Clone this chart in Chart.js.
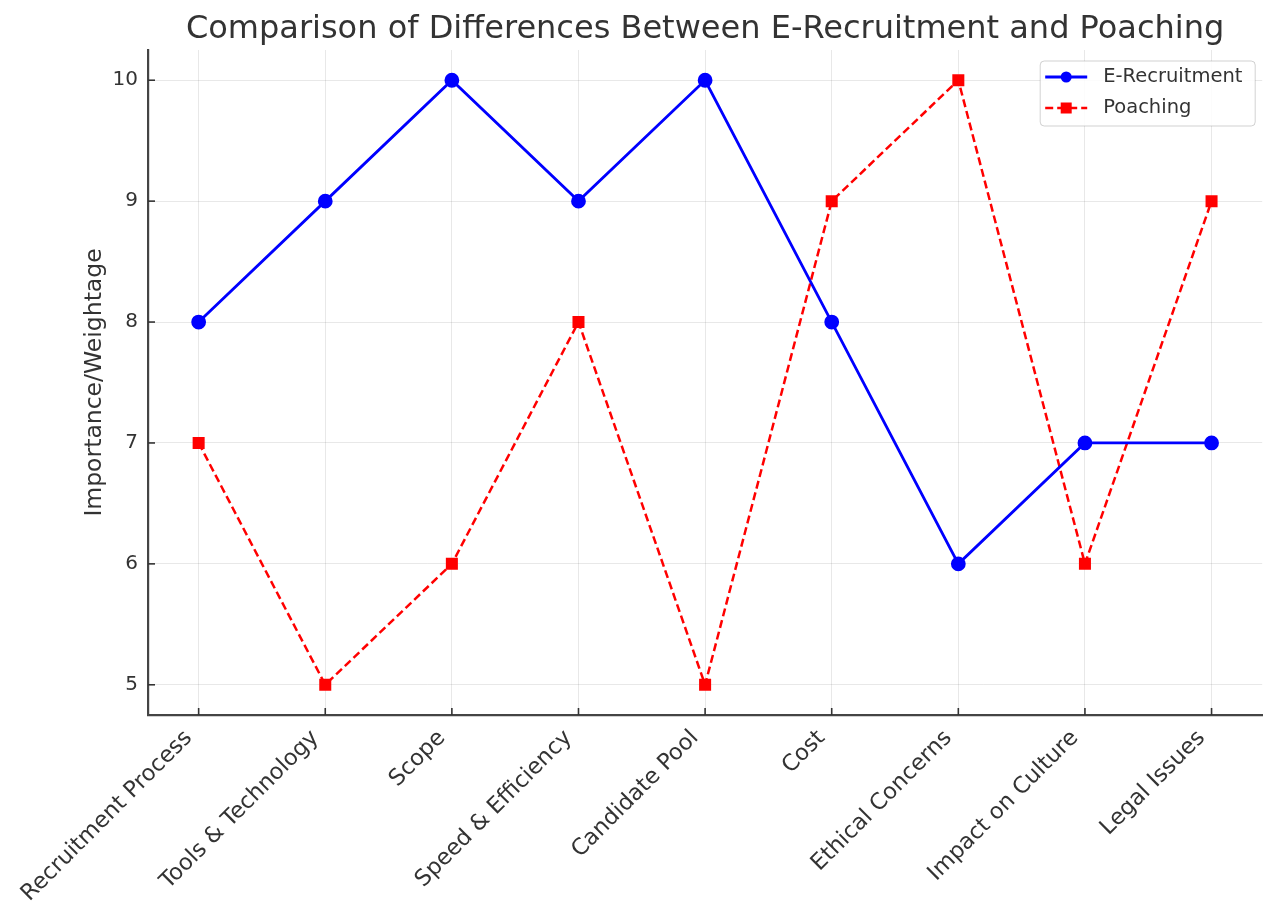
<!DOCTYPE html>
<html>
<head>
<meta charset="utf-8">
<script src="https://cdn.jsdelivr.net/npm/chart.js@4.4.1/dist/chart.umd.min.js"></script>
<style>
html,body{margin:0;padding:0;background:#fff;}
#wrap{width:1271px;height:911px;}
</style>
</head>
<body>
<div id="wrap"><canvas id="c" width="1271" height="911"></canvas></div>
<script>
const categories = ["Recruitment Process","Tools & Technology","Scope","Speed & Efficiency","Candidate Pool","Cost","Ethical Concerns","Impact on Culture","Legal Issues"];
const eRecruitment = [8,9,10,9,10,8,6,7,7];
const poaching = [7,5,6,8,5,9,10,6,9];
const yTicks = [5,6,7,8,9,10];
const chartTitle = "Comparison of Differences Between E-Recruitment and Poaching";
const yTitle = "Importance/Weightage";

const FONT = "'DejaVu Sans', sans-serif";
const TXT = '#333333';

const toPts = arr => arr.map((v,i)=>({x:i,y:v}));

const titlePlugin = {
  id:'customTitle',
  afterDraw(chart){
    const {ctx, chartArea} = chart;
    ctx.save();
    ctx.font = `32px ${FONT}`;
    ctx.fillStyle = TXT;
    ctx.textAlign = 'center';
    ctx.textBaseline = 'alphabetic';
    ctx.fillText(chartTitle, (chartArea.left+chartArea.right)/2, 38);
    ctx.restore();
  }
};

const tickPlugin = {
  id:'innerTicks',
  afterDraw(chart){
    const {ctx, chartArea, scales} = chart;
    ctx.save();
    ctx.strokeStyle = '#333';
    ctx.lineWidth = 1.6;
    scales.x.ticks.forEach(t=>{
      const px = scales.x.getPixelForValue(t.value);
      ctx.beginPath(); ctx.moveTo(px, chartArea.bottom); ctx.lineTo(px, chartArea.bottom-7); ctx.stroke();
    });
    scales.y.ticks.forEach(t=>{
      const py = scales.y.getPixelForValue(t.value);
      ctx.beginPath(); ctx.moveTo(chartArea.left, py); ctx.lineTo(chartArea.left+7, py); ctx.stroke();
    });
    ctx.restore();
  }
};

const legendPlugin = {
  id:'boxLegend',
  afterDraw(chart){
    const {ctx, chartArea} = chart;
    const w = 215, h = 65;
    const x0 = chartArea.right - 7 - w, y0 = chartArea.top + 11;
    ctx.save();
    ctx.fillStyle = 'rgba(255,255,255,0.85)';
    ctx.strokeStyle = 'rgba(0,0,0,0.18)';
    ctx.lineWidth = 1;
    ctx.beginPath();
    ctx.roundRect(x0, y0, w, h, 4);
    ctx.fill(); ctx.stroke();
    chart.data.datasets.forEach((ds, i)=>{
      const cy = y0 + 16 + i*31;
      const lx0 = x0 + 5, lx1 = x0 + 47, mx = (lx0+lx1)/2;
      ctx.strokeStyle = ds.borderColor;
      ctx.lineWidth = ds.borderWidth;
      ctx.setLineDash(ds.borderDash || []);
      ctx.beginPath(); ctx.moveTo(lx0, cy); ctx.lineTo(lx1, cy); ctx.stroke();
      ctx.setLineDash([]);
      ctx.fillStyle = ds.pointBackgroundColor;
      if (ds.pointStyle === 'rect') {
        ctx.fillRect(mx-5.5, cy-5.5, 11, 11);
      } else {
        ctx.beginPath(); ctx.arc(mx, cy, 5.5, 0, Math.PI*2); ctx.fill();
      }
      ctx.fillStyle = TXT;
      ctx.font = `19.5px ${FONT}`;
      ctx.textAlign = 'left';
      ctx.textBaseline = 'middle';
      ctx.fillText(ds.label, x0 + 63, cy);
    });
    ctx.restore();
  }
};

new Chart(document.getElementById('c'), {
  type:'line',
  data:{
    datasets:[
      {label:'E-Recruitment', data:toPts(eRecruitment), borderColor:'#0000ff', backgroundColor:'#0000ff',
       pointBackgroundColor:'#0000ff', pointBorderColor:'#0000ff', borderWidth:2.8, pointRadius:6, pointStyle:'circle', tension:0},
      {label:'Poaching', data:toPts(poaching), borderColor:'#ff0000', backgroundColor:'#ff0000',
       pointBackgroundColor:'#ff0000', pointBorderColor:'#ff0000', borderWidth:2.5, borderDash:[8,4],
       pointRadius:8.5, pointBorderWidth:0, pointStyle:'rect', tension:0}
    ]
  },
  options:{
    responsive:false,
    animation:false,
    devicePixelRatio:1,
    layout:{padding:{top:50,left:81,right:-2,bottom:0}},
    plugins:{legend:{display:false}, title:{display:false}, tooltip:{enabled:false}},
    scales:{
      x:{
        type:'linear', min:-0.4, max:8.4,
        afterBuildTicks(s){ s.ticks = categories.map((c,i)=>({value:i})); },
        afterFit(s){ s.height = 196; s.paddingRight = 0; },
        grid:{color:'rgba(0,0,0,0.09)', lineWidth:1, drawTicks:false},
        border:{display:true, color:'#444', width:2.2},
        ticks:{
          autoSkip:false, maxRotation:45, minRotation:45, padding:10, labelOffset:-10,
          font:{family:FONT, size:22.5}, color:TXT,
          callback:(v)=>categories[v]
        }
      },
      y:{
        min:4.75, max:10.25,
        afterBuildTicks(s){ s.ticks = yTicks.map(v=>({value:v})); },
        afterFit(s){ s.width = 67; },
        grid:{color:'rgba(0,0,0,0.09)', lineWidth:1, drawTicks:false},
        border:{display:true, color:'#444', width:2.2},
        ticks:{padding:10, font:{family:FONT, size:20}, color:TXT},
        title:{display:true, text:yTitle, font:{family:FONT, size:23.5}, color:TXT, padding:{top:0,bottom:0}}
      }
    }
  },
  plugins:[titlePlugin, tickPlugin, legendPlugin]
});
</script>
</body>
</html>
